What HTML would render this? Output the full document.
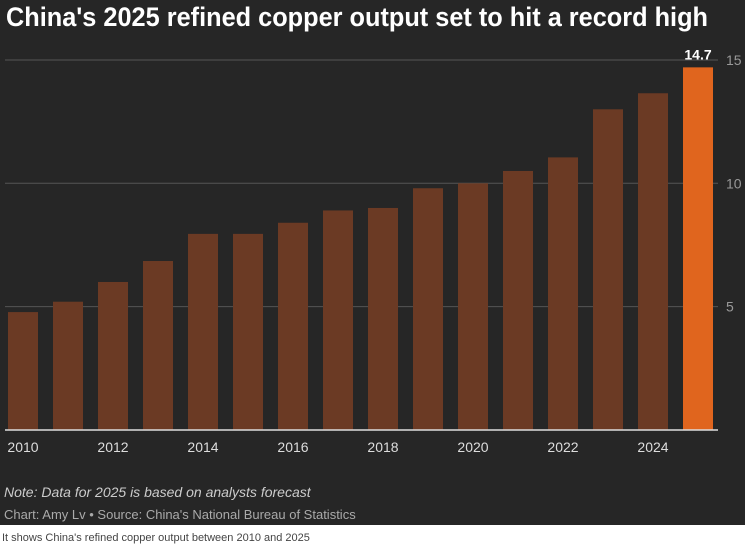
<!DOCTYPE html>
<html><head><meta charset="utf-8"><style>
html,body{margin:0;padding:0;background:#fff}
svg{display:block}
text{font-family:"Liberation Sans",sans-serif}
</style></head><body>
<svg id="c" width="745" height="546">
<rect x="0" y="0" width="745" height="525" fill="#262626"/>
<text x="6" y="26" font-size="27" font-weight="bold" fill="#fff" textLength="702" lengthAdjust="spacingAndGlyphs">China's 2025 refined copper output set to hit a record high</text>
<g id="grid"></g><g id="bars"></g><g id="xl"></g>
<line x1="5" y1="430" x2="718" y2="430" stroke="#ddd" stroke-width="1.5"/>
<text x="4" y="497" font-size="14" font-style="italic" fill="#ccc">Note: Data for 2025 is based on analysts forecast</text>
<text x="4" y="519" font-size="13" fill="#aaa">Chart: Amy Lv • Source: China's National Bureau of Statistics</text>
<text x="2" y="541" font-size="11" fill="#444">It shows China's refined copper output between 2010 and 2025</text>
</svg>
<script>
const years=[2010,2011,2012,2013,2014,2015,2016,2017,2018,2019,2020,2021,2022,2023,2024,2025];
const values=[4.78,5.2,6.0,6.85,7.95,7.95,8.4,8.9,9.0,9.8,10.0,10.5,11.05,13.0,13.65,14.7];
const yTicks=[5,10,15];
const xTickLabels=["2010","2012","2014","2016","2018","2020","2022","2024"];
const ns="http://www.w3.org/2000/svg";
const y=v=>430-v*24.67;
const x=yr=>8+(yr-2010)*45;
const bw=30;
function mk(t,a,p){const e=document.createElementNS(ns,t);for(const k in a)e.setAttribute(k,a[k]);p.appendChild(e);return e;}
const g=document.getElementById('grid');
yTicks.forEach(t=>{
 const l=mk('line',{x1:5,x2:718,y1:y(t),y2:y(t),stroke:'#555','stroke-width':1},g);
 
 
 const tx=mk('text',{x:726,y:y(t)+5,'font-size':14,fill:'#999'},g);tx.textContent=t;
 
 
});
const b=document.getElementById('bars');
years.forEach((yr,i)=>{
 const r=mk('rect',{x:x(yr),y:y(values[i]),width:bw,height:430-y(values[i]),fill:yr===2025?'#e0651e':'#6b3a24'},b);
 
 
});
const last=values.length-1;
const vl=mk('text',{x:x(years[last])+bw/2,y:y(values[last])-8,'font-size':14,'font-weight':'bold',fill:'#fff','text-anchor':'middle'},b);
vl.textContent=values[last];


const xl=document.getElementById('xl');
xTickLabels.forEach(s=>{
 const t=mk('text',{x:x(+s)+bw/2,y:452,'font-size':14,fill:'#ddd','text-anchor':'middle'},xl);t.textContent=s;
 
 
});
</script>
</body></html>
